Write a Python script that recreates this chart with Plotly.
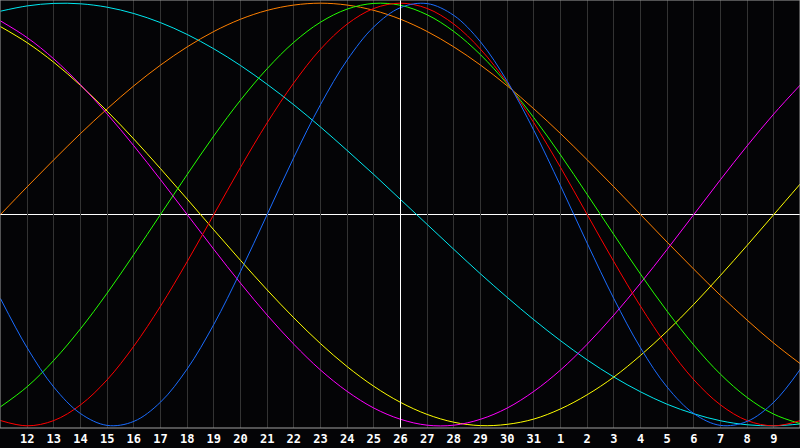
import plotly.graph_objects as go

# day index 0..30 (x position), labels for days at index 1..29
day_index = list(range(31))
tick_pos = list(range(1, 30))
tick_labels = ["12", "13", "14", "15", "16", "17", "18", "19", "20", "21", "22", "23",
               "24", "25", "26", "27", "28", "29", "30", "31", "1", "2", "3", "4",
               "5", "6", "7", "8", "9"]
today_index = 15

# values (percent), one per day index
blue = [-39.8, -63.1, -81.7, -94.2, -99.8, -97.9, -88.8, -73.1, -52.0, -27.0, 0, 27.0, 52.0,
        73.1, 88.8, 97.9, 99.8, 94.2, 81.7, 63.1, 39.8, 13.6, -13.6, -39.8, -63.1, -81.7,
        -94.2, -99.8, -97.9, -88.8, -73.1]
red = [-97.5, -100, -97.5, -90.1, -78.2, -62.3, -43.4, -22.3, 0, 22.3, 43.4, 62.3, 78.2,
       90.1, 97.5, 100, 97.5, 90.1, 78.2, 62.3, 43.4, 22.3, 0, -22.3, -43.4, -62.3, -78.2,
       -90.1, -97.5, -100, -97.5]
green = [-91.0, -81.5, -69.0, -54.1, -37.2, -18.9, 0, 18.9, 37.2, 54.1, 69.0, 81.5, 91.0,
         97.2, 99.9, 99.0, 94.5, 86.6, 75.6, 61.8, 45.8, 28.2, 9.5, -9.5, -28.2, -45.8,
         -61.8, -75.6, -86.6, -94.5, -99.0]
magenta = [91.6, 83.7, 73.6, 61.4, 47.6, 32.5, 16.5, 0, -16.5, -32.5, -47.6, -61.4, -73.6,
           -83.7, -91.6, -96.9, -99.7, -99.7, -96.9, -91.6, -83.7, -73.6, -61.4, -47.6,
           -32.5, -16.5, 0, 16.5, 32.5, 47.6, 61.4]
yellow = [88.9, 81.3, 72.0, 61.1, 48.9, 35.7, 21.7, 7.3, -7.3, -21.7, -35.7, -48.9, -61.1,
          -72.0, -81.3, -88.9, -94.6, -98.3, -99.9, -99.3, -96.8, -92.0, -85.3, -76.9,
          -66.7, -55.2, -42.5, -28.8, -14.6, 0, 14.6]
orange = [0, 13.1, 25.9, 38.3, 50.0, 60.9, 70.7, 79.3, 86.6, 92.4, 96.6, 99.1, 100, 99.1,
          96.6, 92.4, 86.6, 79.3, 70.7, 60.9, 50.0, 38.3, 25.9, 13.1, 0, -13.1, -25.9,
          -38.3, -50.0, -60.9, -70.7]
cyan = [96.2, 98.7, 99.9, 99.7, 98.1, 95.1, 90.8, 85.2, 78.4, 70.5, 61.6, 51.9, 41.4, 30.3,
        18.9, 7.1, -4.7, -16.5, -28.1, -39.2, -49.8, -59.7, -68.8, -76.9, -83.9, -89.8,
        -94.3, -97.6, -99.5, -100.0, -99.1]

series = [
    ("cyan", cyan, "#00e8f0"),
    ("orange", orange, "#ff8000"),
    ("yellow", yellow, "#ffff00"),
    ("magenta", magenta, "#ff00ff"),
    ("green", green, "#22ff00"),
    ("red", red, "#ff0000"),
    ("blue", blue, "#1a6cff"),
]

fig = go.Figure()
for name, vals, col in series:
    fig.add_trace(go.Scatter(x=day_index, y=vals, mode="lines", name=name,
                             line=dict(color=col, width=1, shape="spline", smoothing=1),
                             hoverinfo="skip"))

fig.add_shape(type="line", xref="paper", yref="y", x0=0, x1=1, y0=0, y1=0,
              line=dict(color="#ffffff", width=1), layer="below")
fig.add_shape(type="line", xref="x", yref="paper", x0=today_index, x1=today_index, y0=0, y1=1,
              line=dict(color="#ffffff", width=1), layer="above")
fig.add_shape(type="rect", xref="paper", yref="paper", x0=0, x1=1, y0=0, y1=1,
              line=dict(color="#a0a0a0", width=1))

half = 30 / 800 / 2
fig.update_layout(
    width=800, height=448,
    margin=dict(l=0, r=0, t=0, b=20),
    paper_bgcolor="#040406", plot_bgcolor="#040406",
    showlegend=False,
    xaxis=dict(range=[-half, 30 - half], tickvals=tick_pos,
               ticktext=["<b>%s</b>" % t for t in tick_labels],
               showgrid=True, gridcolor="#333333", gridwidth=1, zeroline=False,
               ticks="", ticklabelstandoff=2,
               tickfont=dict(family="DejaVu Sans Mono", size=12, color="#ffffff"),
               showline=False, fixedrange=True),
    yaxis=dict(range=[-101.03, 101.5], showgrid=False, zeroline=False, showticklabels=False,
               ticks="", fixedrange=True),
)

fig.write_html("out.html", config={"displayModeBar": False},
               post_script="document.body.style.margin='0';document.body.style.overflow='hidden';")
